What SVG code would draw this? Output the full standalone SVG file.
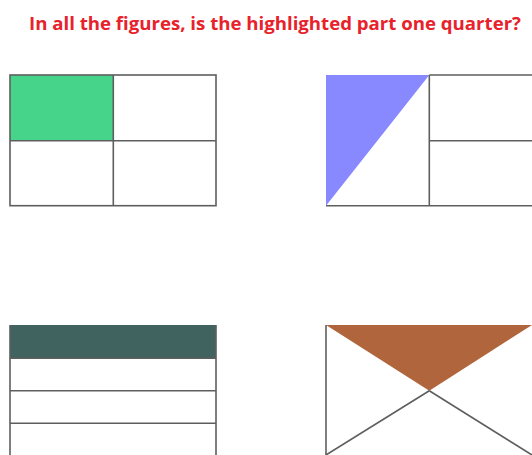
<svg xmlns="http://www.w3.org/2000/svg" width="532" height="455" viewBox="0 0 532 455">
<style>
.ln{stroke:#5e5e5e;stroke-width:1.6;fill:none}
.title{font-family:"Open Sans","Liberation Sans",sans-serif;font-weight:bold;font-size:18px;fill:#e8222b}
</style>
<rect width="532" height="455" fill="#ffffff"/>
<text class="title" x="29" y="30" textLength="492" lengthAdjust="spacingAndGlyphs">In all the figures, is the highlighted part one quarter?</text>
<g id="fig1">
<rect x="10" y="75" width="103.3" height="65.7" fill="#45d48a"/>
<rect class="ln" x="10" y="75" width="206" height="130.7"/>
<line class="ln" x1="113.3" y1="75" x2="113.3" y2="205.7"/>
<line class="ln" x1="10" y1="140.7" x2="216" y2="140.7"/>
</g>
<g id="fig2">
<polygon points="326,75 429.3,75 326,205.7" fill="#8888ff"/>
<line class="ln" x1="326" y1="205.7" x2="532" y2="205.7"/>
<line class="ln" x1="429.3" y1="75" x2="532" y2="75"/>
<line class="ln" x1="429.3" y1="75" x2="429.3" y2="205.7"/>
<line class="ln" x1="429.3" y1="140.7" x2="532" y2="140.7"/>
</g>
<g id="fig3">
<rect x="10" y="325" width="206" height="33.3" fill="#41635f"/>
<line class="ln" x1="10" y1="325" x2="10" y2="456"/>
<line class="ln" x1="216" y1="325" x2="216" y2="456"/>
<line class="ln" x1="10" y1="358.3" x2="216" y2="358.3"/>
<line class="ln" x1="10" y1="390.7" x2="216" y2="390.7"/>
<line class="ln" x1="10" y1="423.3" x2="216" y2="423.3"/>
</g>
<g id="fig4">
<polygon points="326,325 532,325 429.3,390.7" fill="#b0653c"/>
<line class="ln" x1="326" y1="325" x2="326" y2="456"/>
<line class="ln" x1="326" y1="455" x2="429.3" y2="390.7"/>
<line class="ln" x1="429.3" y1="390.7" x2="532" y2="455"/>
</g>
</svg>
